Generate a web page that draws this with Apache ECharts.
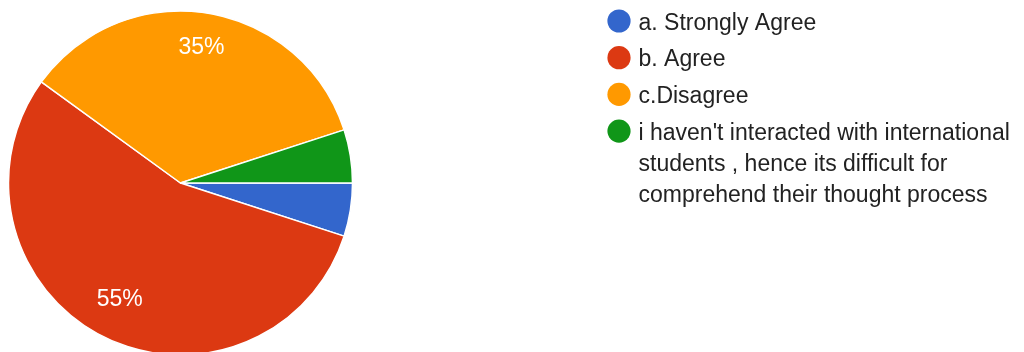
<!DOCTYPE html>
<html>
<head>
<meta charset="utf-8">
<script src="https://cdn.jsdelivr.net/npm/echarts@6/dist/echarts.min.js"></script>
<style>
html,body{margin:0;padding:0;background:#fff;}
#chart{width:1024px;height:352px;}
</style>
</head>
<body>
<div id="chart"></div>
<script>
const categories = [
  "a. Strongly Agree",
  "b. Agree",
  "c.Disagree",
  "i haven't interacted with international\nstudents , hence its difficult for\ncomprehend their thought process"
];
const responses = [1, 11, 7, 1];
const colors = ["#3366cc", "#dc3912", "#ff9900", "#109618"];

const FONT = "Liberation Sans, Arial, sans-serif";
const FONT_SIZE = 23;
const LINE_H = 31;
const LEG_X = 619, LEG_Y0 = 21, LEG_STEP = 36.7, LEG_R = 11.6, LEG_TEXT_X = 638.5, TEXT_DY = 2.2;

const pieData = categories.map((name, i) => ({ name: name, value: responses[i] }));

// legend drawn as circles + text (first line aligned with the marker)
const legendGraphics = [];
categories.forEach((name, i) => {
  const cy = LEG_Y0 + LEG_STEP * i;
  legendGraphics.push({
    type: "circle",
    shape: { cx: LEG_X, cy: cy, r: LEG_R },
    style: { fill: colors[i] },
    silent: true
  });
  legendGraphics.push({
    type: "text",
    x: LEG_TEXT_X,
    y: cy - LINE_H / 2 + TEXT_DY,
    style: {
      text: name,
      fill: "#222222",
      font: FONT_SIZE + "px " + FONT,
      lineHeight: LINE_H,
      align: "left",
      verticalAlign: "top"
    },
    silent: true
  });
});

const chart = echarts.init(document.getElementById("chart"), null, { renderer: "canvas" });
chart.setOption({
  animation: false,
  color: colors,
  graphic: legendGraphics,
  series: [
    {
      type: "pie",
      center: [180.5, 183],
      radius: 172,
      startAngle: 0,
      clockwise: true,
      silent: true,
      label: { show: false },
      labelLine: { show: false },
      itemStyle: { borderColor: "#ffffff", borderWidth: 1.5 },
      data: pieData
    },
    {
      type: "pie",
      center: [180.5, 183],
      radius: 262,
      startAngle: 0,
      clockwise: true,
      silent: true,
      legendHoverLink: false,
      avoidLabelOverlap: false,
      itemStyle: { color: "rgba(0,0,0,0)", borderWidth: 0 },
      labelLine: { show: false },
      labelLayout: { dy: -2.5 },
      label: {
        show: true,
        position: "inside",
        color: "#ffffff",
        fontFamily: FONT,
        fontSize: FONT_SIZE,
        formatter: p => (p.percent >= 10 ? Math.round(p.percent) + "%" : "")
      },
      data: pieData
    }
  ]
});
</script>
</body>
</html>
